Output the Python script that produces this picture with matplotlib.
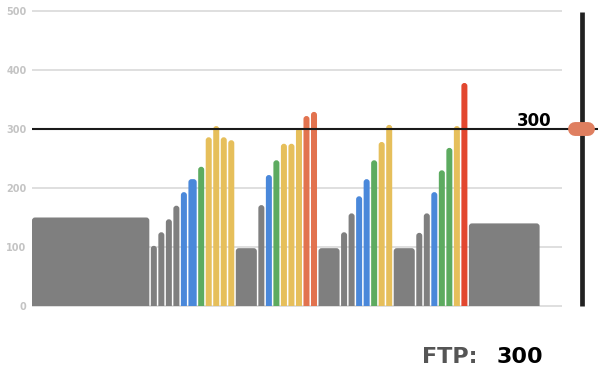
import matplotlib
matplotlib.use("Agg")
import matplotlib.pyplot as plt
from matplotlib.patches import FancyBboxPatch

# ---------------- workout data ----------------
ftp = 300
# segment lengths (interval slots) and target power (W)
durations = [15.8, 1, 1, 1, 1, 1, 1.3, 1, 1, 1, 1, 1,
             3, 1, 1, 1, 1, 1, 1, 1, 1,
             3, 1, 1, 1, 1, 1, 1, 1,
             3, 1, 1, 1, 1, 1, 1, 1,
             9.6]
watts = [150, 102, 125, 147, 170, 193, 215, 236, 286, 305, 286, 281,
         98, 171, 222, 247, 275, 275, 301, 322, 329,
         98, 125, 157, 186, 215, 247, 278, 307,
         98, 124, 157, 193, 230, 268, 305, 378,
         140]
yticks = [0, 100, 200, 300, 400, 500]

# power zones as fraction of FTP
zone_edges = [0.60, 0.76, 0.91, 1.05, 1.20]
zone_colors = ['#7f7f7f', '#4a88da', '#5dab60', '#e6bf5b', '#e2734f', '#e2472f']


def zone_color(w):
    f = w / ftp
    for edge, c in zip(zone_edges, zone_colors):
        if f < edge:
            return c
    return zone_colors[-1]


W, H = 603, 372
fig = plt.figure(figsize=(W / 100, H / 100), dpi=100)
ax_left, ax_right = 32, 600       # pixels
ax_bottom, ax_top = 306, 11       # pixels from top
ax = fig.add_axes([ax_left / W, (H - ax_bottom) / H,
                   (ax_right - ax_left) / W, (ax_bottom - ax_top) / H])

px_x = 7.52                       # pixels per slot
xmax = (ax_right - ax_left) / px_x
ax.set_xlim(0, xmax)
ax.set_ylim(0, 500)

# aspect so the rounded tops stay round
ux = xmax / (ax_right - ax_left)
uy = 500 / (ax_bottom - ax_top)
m_aspect = uy / ux

gap = 0.2
r = 0.4
start = 0
for d, w in zip(durations, watts):
    p = FancyBboxPatch((start, -30), d - gap, w + 30,
                       boxstyle=f"round,pad=0,rounding_size={r}",
                       mutation_aspect=m_aspect,
                       fc=zone_color(w), ec='none', zorder=2)
    ax.add_patch(p)
    start += d

# grid
grid_end = (562 - ax_left) / px_x
for t in yticks:
    if t == ftp:
        continue
    ax.hlines(t, 0, grid_end, color='#d6d6d6', lw=1.1, zorder=1, clip_on=False)

# FTP line + slider
ax.hlines(ftp, 0, (598 - ax_left) / px_x, color='#1a1a1a', lw=1.5, zorder=4, clip_on=False)
sx = (581.5 - ax_left) / px_x
ax.vlines(sx, 0, 498, color='#222222', lw=3.4, zorder=4, clip_on=False)
ax.plot([sx - 0.93, sx + 0.93], [ftp, ftp], color='#df7f60', lw=10,
        solid_capstyle='round', zorder=5, clip_on=False)
ax.text((552 - ax_left) / px_x, ftp + 5, str(ftp), ha='right', va='baseline',
        fontsize=12, fontweight='bold', color='black', zorder=6)

ax.set_yticks(yticks)
ax.set_yticklabels([str(t) for t in yticks], color='#c4c4c4', fontweight='bold', fontsize=7)
ax.tick_params(axis='y', length=0, pad=4)
ax.set_xticks([])
for s in ax.spines.values():
    s.set_visible(False)

fig.text(422 / W, 9 / H, 'FTP:', ha='left', va='baseline', fontsize=16,
         fontweight='bold', color='#555555')
fig.text(497 / W, 9 / H, str(ftp), ha='left', va='baseline', fontsize=16,
         fontweight='bold', color='black')

fig.savefig('out.png', dpi=100)
